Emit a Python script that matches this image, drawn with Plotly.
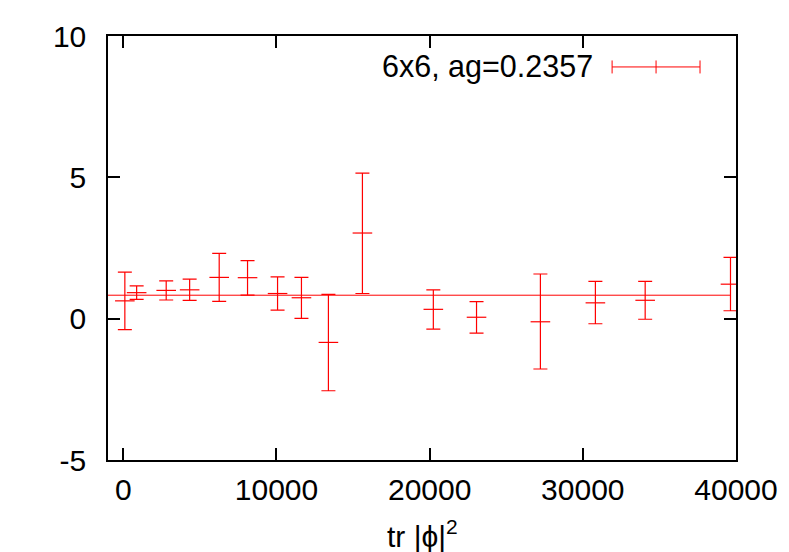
import plotly.graph_objects as go

# data
tr_phi2 = [100, 870, 2800, 4330, 6260, 8110, 10070, 11630, 13390,
           15610, 20240, 23060, 27230, 30820, 34070, 39640]
value = [0.63, 0.92, 1.00, 1.02, 1.46, 1.45, 0.89, 0.74, -0.84,
         3.03, 0.33, 0.05, -0.11, 0.56, 0.65, 1.22]
upper = [1.65, 1.16, 1.34, 1.40, 2.31, 2.05, 1.48, 1.46, 0.86,
         5.15, 1.02, 0.60, 1.58, 1.32, 1.32, 2.17]
lower = [-0.39, 0.68, 0.66, 0.65, 0.61, 0.83, 0.30, 0.01, -2.55,
         0.89, -0.37, -0.51, -1.78, -0.18, -0.02, 0.28]

fit_value = 0.83
fit_x = [-1000, 39640]

x_ticks = [0, 10000, 20000, 30000, 40000]
y_ticks = [-5, 0, 5, 10]

x_label = 'tr |\u03d5|<sup>2</sup>'
legend_label = "6x6, ag=0.2357"
red = "#ff0000"
font_family = 'Liberation Sans, Arial, sans-serif'

err_plus = [u - v for u, v in zip(upper, value)]
err_minus = [v - l for v, l in zip(value, lower)]

fig = go.Figure()

# constant fit line
fig.add_trace(go.Scatter(
    x=fit_x, y=[fit_value, fit_value],
    mode='lines',
    line=dict(color=red, width=1),
    hoverinfo='skip',
))

# data points with error bars
fig.add_trace(go.Scatter(
    x=tr_phi2, y=value,
    mode='markers',
    marker=dict(symbol='line-ew', size=14, color=red,
                line=dict(color=red, width=1.2)),
    error_y=dict(type='data', symmetric=False, array=err_plus, arrayminus=err_minus,
                 color=red, thickness=1.2, width=7),
))

axis_common = dict(
    showline=True, linecolor='black', linewidth=1.5, mirror='ticks',
    ticks='inside', ticklen=12, tickwidth=1.5, tickcolor='black',
    showgrid=False, zeroline=False, automargin=False,
    tickfont=dict(family=font_family, size=30, color='black'),
)

fig.update_xaxes(
    range=[-1000, 40000], tickvals=x_ticks, ticktext=[str(t) for t in x_ticks],
    ticklabelstandoff=2,
    **axis_common,
)
fig.update_yaxes(
    range=[-5, 10], tickvals=y_ticks, ticktext=[str(t) for t in y_ticks],
    ticklabelstandoff=14,
    **axis_common,
)

# legend drawn by hand, gnuplot style
lx0, lx1, ly, cap = 0.8027, 0.9427, 0.927, 0.0153
legend_shapes = [
    dict(type='line', xref='paper', yref='paper', x0=lx0, x1=lx1, y0=ly, y1=ly),
    dict(type='line', xref='paper', yref='paper', x0=lx0, x1=lx0, y0=ly - cap, y1=ly + cap),
    dict(type='line', xref='paper', yref='paper', x0=lx1, x1=lx1, y0=ly - cap, y1=ly + cap),
    dict(type='line', xref='paper', yref='paper', x0=(lx0 + lx1) / 2, x1=(lx0 + lx1) / 2,
         y0=ly - cap, y1=ly + cap),
]
for s in legend_shapes:
    s['line'] = dict(color=red, width=1)

# page body has an 8px margin, so the figure is sized to fit inside the window
fig.update_layout(
    width=781, height=544,
    margin=dict(l=99.5, r=53, t=28, b=92),
    paper_bgcolor='white', plot_bgcolor='white',
    showlegend=False,
    shapes=legend_shapes,
    annotations=[
        dict(text=legend_label, xref='paper', yref='paper', x=0.7755, y=ly,
             xanchor='right', yanchor='middle', showarrow=False,
             font=dict(family=font_family, size=30.5, color='black')),
        # x-axis title sits low, partly cut by the page edge as in the reference
        dict(text=x_label, xref='paper', yref='paper', x=0.5, y=-0.175,
             xanchor='center', yanchor='middle', showarrow=False,
             font=dict(family=font_family, size=30, color='black')),
    ],
)

fig.write_html("out.html")
